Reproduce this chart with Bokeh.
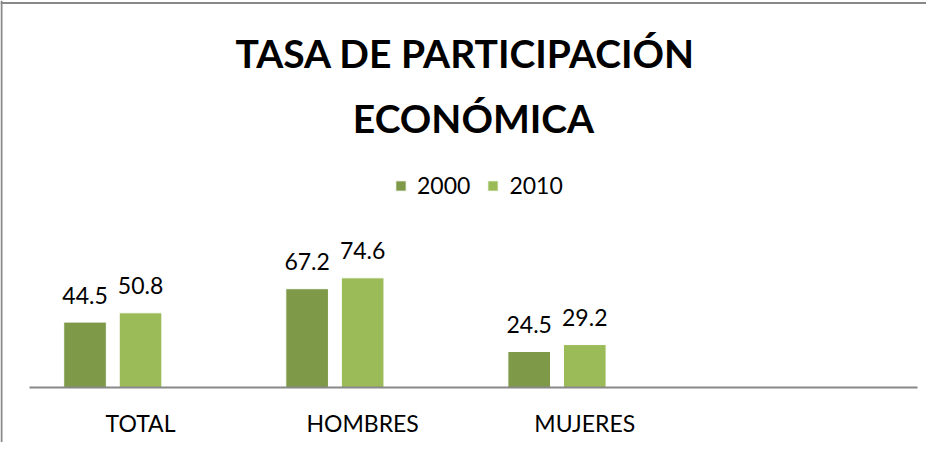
import numpy as np
from bokeh.plotting import figure
from bokeh.models import (ColumnDataSource, Range1d, FixedTicker, Label, Legend,
                          LegendItem, Span)
from bokeh.embed import file_html
from bokeh.resources import INLINE
from bokeh.core.properties import value

# ---- data ----
categories = ["TOTAL", "HOMBRES", "MUJERES"]
series_names = ["2000", "2010"]
values_2000 = [44.5, 67.2, 24.5]
values_2010 = [50.8, 74.6, 29.2]
n_slots = 4  # the category axis has a fourth, empty slot

DARK = "#7E9A48"
LIGHT = "#9BBB59"
GRAY = "#888888"
FONT = "Lato"

W, H = 926, 442
px_x = 222.1
px_y = 1.47
x_start = -29.0 / px_x
x_end = x_start + W / px_x
y_start = -55.0 / px_y
y_end = y_start + H / px_y

p = figure(width=W, height=H, output_backend="svg", toolbar_location=None,
           x_range=Range1d(x_start, x_end), y_range=Range1d(y_start, y_end),
           min_border_left=0, min_border_right=0, min_border_top=0,
           min_border_bottom=0)
p.outline_line_color = None
p.background_fill_color = "white"
p.border_fill_color = "white"
p.xgrid.visible = False
p.ygrid.visible = False
p.yaxis.visible = False

idx = np.arange(len(categories))
centers = idx + 0.5
src = ColumnDataSource(dict(
    x2000=centers - 0.25, x2010=centers,
    v2000=values_2000, v2010=values_2010,
    t2000=[f"{v:.1f}" for v in values_2000],
    t2010=[f"{v:.1f}" for v in values_2010],
))

bw = 0.192
r1 = p.vbar(x="x2000", top="v2000", bottom=0, width=bw, source=src,
            fill_color=DARK, line_color="white", line_width=1)
r2 = p.vbar(x="x2010", top="v2010", bottom=0, width=bw, source=src,
            fill_color=LIGHT, line_color="white", line_width=1)

for xcol, tcol, vcol in (("x2000", "t2000", "v2000"), ("x2010", "t2010", "v2010")):
    p.text(x=xcol, y=vcol, text=tcol, source=src, y_offset=-27,
           text_align="center", text_baseline="alphabetic",
           text_font=value(FONT), text_font_size="23px", text_color="#000000")

# category axis, drawn at y = 0 inside the frame
ax = p.xaxis[0]
ax.fixed_location = 0
ax.bounds = (0, n_slots)
ax.ticker = FixedTicker(ticks=list(centers))
ax.major_label_overrides = {float(c): name for c, name in zip(centers, categories)}
ax.major_tick_line_color = None
ax.minor_tick_line_color = None
ax.axis_line_color = GRAY
ax.axis_line_width = 2
ax.major_label_text_font = FONT
ax.major_label_text_font_size = "23px"
ax.major_label_text_color = "#000000"
ax.major_label_standoff = 15

# chart border (left and top edges visible in the crop)
p.add_layout(Span(location=x_start + 1.0 / px_x, dimension="height",
                  line_color=GRAY, line_width=2))
p.add_layout(Span(location=y_end - 2.5 / px_y, dimension="width",
                  line_color=GRAY, line_width=2))

# title
p.add_layout(Label(x=465, y=H - 52.7, x_units="screen", y_units="screen",
                   text="TASA DE PARTICIPACIÓN", text_align="center",
                   text_baseline="alphabetic", text_font=FONT,
                   text_font_size="39px", text_font_style="bold",
                   text_color="#000000"))
p.add_layout(Label(x=473, y=H - 117.7, x_units="screen", y_units="screen",
                   text="ECONÓMICA", text_align="center",
                   text_baseline="alphabetic", text_font=FONT,
                   text_font_size="39px", text_font_style="bold",
                   text_color="#000000"))

legend = Legend(items=[LegendItem(label=series_names[0], renderers=[r1]),
                       LegendItem(label=series_names[1], renderers=[r2])],
                orientation="horizontal", location=(394, 243),
                glyph_width=13, glyph_height=13, label_standoff=10,
                spacing=16, padding=0, margin=0,
                label_text_font=FONT, label_text_font_size="23px",
                label_text_color="#000000",
                border_line_color=None, background_fill_alpha=0)
p.add_layout(legend, "center")

open("out.html", "w").write(file_html(p, INLINE))
